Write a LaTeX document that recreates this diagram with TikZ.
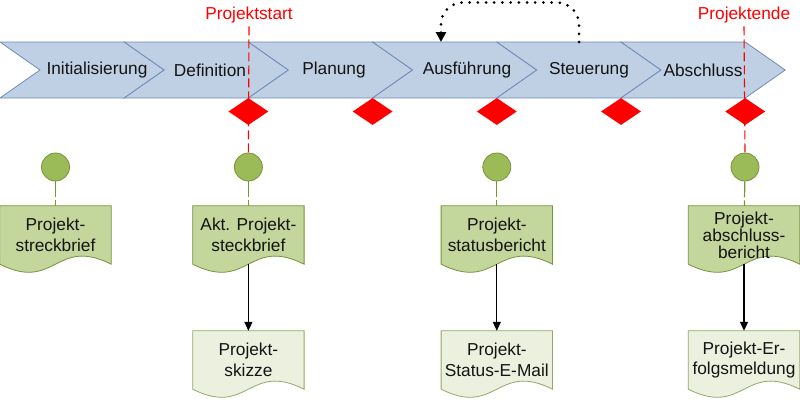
\documentclass[tikz,border=0pt]{standalone}
\usepackage{fontspec}
\setmainfont{Liberation Sans}
\usetikzlibrary{shapes.geometric,arrows.meta,calc}
\definecolor{bandfill}{RGB}{191,207,228}
\definecolor{bandline}{RGB}{111,141,185}
\definecolor{docfill}{RGB}{195,214,155}
\definecolor{docline}{RGB}{119,147,60}
\definecolor{circfill}{RGB}{155,187,89}
\definecolor{lowfill}{RGB}{235,241,222}
\definecolor{lowline}{RGB}{150,168,105}
\definecolor{txt}{RGB}{20,20,20}
\pgfdeclarelayer{bandlayer}
\pgfdeclarelayer{linelayer}
\pgfsetlayers{bandlayer,linelayer,main}
\newcommand\docpath[1]{(#1.north west) -- (#1.north east) -- (#1.south east) .. controls ($(#1.south)+(0,-28)$) and ($(#1.south)+(0,28)$) .. (#1.south west) -- cycle}
\tikzset{
  chev/.style={fill=bandfill, draw=bandline, line width=0.8pt, line join=miter},
  phase/.style={text=txt, inner sep=0pt},
  redtxt/.style={text=red, inner sep=3pt},
  reddash/.style={draw=red, line width=1.1pt, dash pattern=on 9pt off 4pt},
  milestone/.style={diamond, fill=red, draw=none, minimum width=40pt, minimum height=27pt, inner sep=0pt},
  circ/.style={circle, fill=circfill, draw=docline, line width=0.8pt, minimum size=28pt, inner sep=0pt},
  docbox/.style={minimum width=111pt, minimum height=58pt, inner sep=0pt, align=center, text=txt},
  upshape/.style={fill=docfill, draw=docline, line width=0.8pt},
  lowshape/.style={fill=lowfill, draw=lowline, line width=0.8pt},
  gdash/.style={draw=docline, line width=1.2pt, dash pattern=on 16pt off 3pt},
  blackarrow/.style={draw=black, line width=1.2pt, -{Triangle[width=8pt,length=9pt]}},
  dotarc/.style={draw=black, line width=3pt, line cap=round, dash pattern=on 0pt off 8.2pt, rounded corners=22pt, -{Triangle[width=10pt,length=10pt]}},
}
\begin{document}
\begin{tikzpicture}[x=1pt,y=-1pt, every node/.style={font=\fontsize{17.3}{20.5}\selectfont}]
\useasboundingbox (0,0) rectangle (800,402);
% phase band
\begin{pgfonlayer}{bandlayer}
\foreach \i in {0,...,5} {
  \pgfmathsetmacro\xa{124.2*\i}
  \pgfmathsetmacro\xb{124.2*(\i+1)}
  \draw[chev] (\xa,42) -- (\xb,42) -- (\xb+40,70) -- (\xb,98) -- (\xa,98) -- (\xa+40,70) -- cycle;
}
\end{pgfonlayer}
\node[phase] (p1) at (97,70) {Initialisierung};
\node[phase] (p2) at (210,70) {Definition};
\node[phase] (p3) at (334,70) {Planung};
\node[phase] (p4) at (467,70) {Ausführung};
\node[phase] (p5) at (589,70) {Steuerung};
\node[phase] (p6) at (703,70) {Abschluss};
% milestones
\node[milestone] (m1) at (248.4,111.5) {};
\node[milestone] (m2) at (372.6,111.5) {};
\node[milestone] (m3) at (496.8,111.5) {};
\node[milestone] (m4) at (621,111.5) {};
\node[milestone] (m5) at (745.2,111.5) {};
% labels
\node[redtxt] (ps) at (249,15) {Projektstart};
\node[redtxt] (pe) at (744,15) {Projektende};
% circles
\node[circ] (c1) at (55.5,167) {};
\node[circ] (c2) at (248.4,167) {};
\node[circ] (c3) at (496.8,167) {};
\node[circ] (c4) at (745,167) {};
% documents
\node[docbox] (d1) at (55.5,235) {Projekt-\\streckbrief};
\node[docbox] (d2) at (248.4,235) {Akt. Projekt-\\steckbrief};
\node[docbox] (d3) at (496.8,235) {Projekt-\\statusbericht};
\node[docbox, font=\fontsize{17.3}{17}\selectfont] (d4) at (744,235) {Projekt-\\abschluss-\\bericht};
\node[docbox] (e2) at (248.4,360) {Projekt-\\skizze};
\node[docbox] (e3) at (496.8,360) {Projekt-\\Status-E-Mail};
\node[docbox] (e4) at (744,360) {Projekt-Er-\\folgsmeldung};
\begin{pgfonlayer}{linelayer}
\draw[reddash] (ps.south) -- (c2.north);
\draw[reddash] (pe.south) -- (c4.north);
\path[upshape] \docpath{d1};
\path[upshape] \docpath{d2};
\path[upshape] \docpath{d3};
\path[upshape] \docpath{d4};
\path[lowshape] \docpath{e2};
\path[lowshape] \docpath{e3};
\path[lowshape] \docpath{e4};
\end{pgfonlayer}
% connectors
\draw[gdash] (c1) -- (d1);
\draw[gdash] (c2) -- (d2);
\draw[gdash] (c3) -- (d3);
\draw[gdash] (c4) -- (d4);
\draw[blackarrow] (d2.south) -- (e2.north);
\draw[blackarrow] (d3.south) -- (e3.north);
\draw[blackarrow] (d4.south) -- (e4.north);
% feedback loop
\coordinate (loopS) at (579,42);
\coordinate (loopE) at (441,42);
\draw[dotarc] (loopS) -- (579,2.5) -- (441,2.5) -- (loopE);
\end{tikzpicture}
\end{document}
